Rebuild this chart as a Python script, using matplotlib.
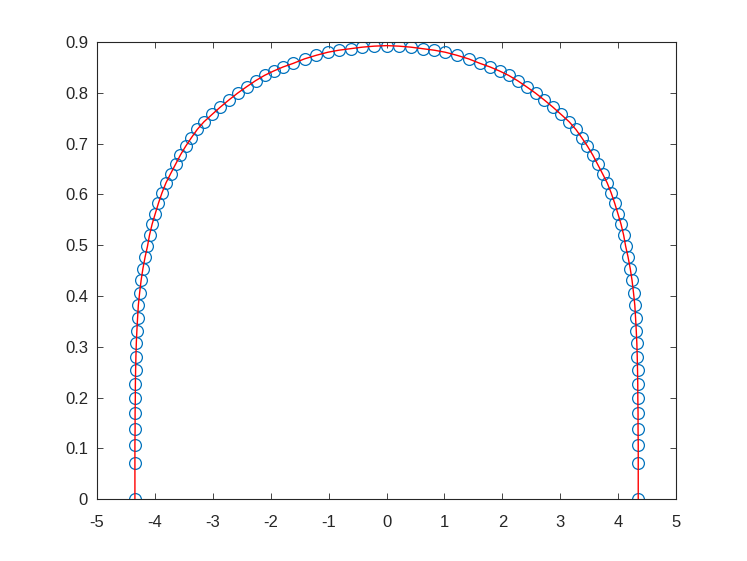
import numpy as np
import matplotlib
matplotlib.use("Agg")
import matplotlib.pyplot as plt

# left half, bottom to top (x < 0), then the right half
x_left = [-4.347, -4.347, -4.347, -4.344, -4.344, -4.340, -4.339, -4.335,
          -4.330, -4.323, -4.313, -4.301, -4.288, -4.266, -4.240, -4.209,
          -4.171, -4.130, -4.095, -4.050, -3.995, -3.940, -3.880, -3.810,
          -3.730, -3.645, -3.560, -3.470, -3.370, -3.270, -3.155, -3.010,
          -2.872, -2.724, -2.573, -2.418, -2.263, -2.107, -1.952, -1.788,
          -1.615, -1.416, -1.214, -1.014, -0.824, -0.622, -0.420, -0.212]
y_left = [0.000, 0.072, 0.107, 0.138, 0.169, 0.199, 0.226, 0.254,
          0.280, 0.307, 0.332, 0.357, 0.382, 0.406, 0.431, 0.454,
          0.477, 0.498, 0.520, 0.5415, 0.5625, 0.583, 0.603, 0.623,
          0.641, 0.6595, 0.678, 0.695, 0.712, 0.728, 0.743, 0.758,
          0.772, 0.786, 0.7995, 0.812, 0.824, 0.8345, 0.843, 0.851,
          0.858, 0.867, 0.874, 0.880, 0.884, 0.887, 0.890, 0.892]
x_top = [0.0]
y_top = [0.893]
x_right = [0.212, 0.420, 0.622, 0.824, 1.014, 1.214, 1.416, 1.615,
           1.788, 1.952, 2.107, 2.263, 2.418, 2.573, 2.724, 2.872,
           3.010, 3.155, 3.270, 3.370, 3.470, 3.560, 3.645, 3.730,
           3.810, 3.880, 3.940, 3.995, 4.050, 4.095, 4.130, 4.171,
           4.209, 4.240, 4.266, 4.288, 4.301, 4.313, 4.323, 4.330,
           4.335, 4.339, 4.340, 4.344, 4.344, 4.347, 4.347, 4.347]
y_right = [0.892, 0.890, 0.887, 0.884, 0.880, 0.874, 0.867, 0.858,
           0.851, 0.843, 0.8345, 0.824, 0.812, 0.7995, 0.786, 0.772,
           0.758, 0.743, 0.728, 0.712, 0.695, 0.678, 0.6595, 0.641,
           0.623, 0.603, 0.583, 0.5625, 0.5415, 0.520, 0.498, 0.477,
           0.454, 0.431, 0.406, 0.382, 0.357, 0.332, 0.307, 0.280,
           0.254, 0.226, 0.199, 0.169, 0.138, 0.107, 0.072, 0.000]

x_ticks = [-5, -4, -3, -2, -1, 0, 1, 2, 3, 4, 5]
y_ticks = [0, 0.1, 0.2, 0.3, 0.4, 0.5, 0.6, 0.7, 0.8, 0.9]


def main():
    plt.rcParams['font.family'] = ['Liberation Sans', 'DejaVu Sans']
    x = np.array(x_left + x_top + x_right)
    y = np.array(y_left + y_top + y_right)

    fig = plt.figure(figsize=(7.47, 5.61), dpi=100)
    ax = fig.add_axes([0.13, 0.11, 0.775, 0.815])

    ax.plot(x, y, 'o', mfc='none', mec='#0072BD', ms=8.5, mew=0.9, zorder=2)
    ax.plot(x, y, '-', color='#ff0000', lw=1.0, zorder=3)

    ax.set_xlim(-5, 5)
    ax.set_ylim(0, 0.9)
    ax.set_xticks(x_ticks)
    ax.set_xticklabels([str(t) for t in x_ticks])
    ax.set_yticks(y_ticks)
    ax.set_yticklabels(['0'] + ['%.1f' % t for t in y_ticks[1:]])
    ax.tick_params(direction='in', top=True, right=True, length=4,
                   width=0.6, labelsize=12, colors='#262626')
    ax.tick_params(axis='x', pad=11)
    ax.tick_params(axis='y', pad=6.5)
    for s in ax.spines.values():
        s.set_linewidth(0.8)
        s.set_color('#262626')

    fig.savefig("out.png", dpi=100)


if __name__ == "__main__":
    main()
